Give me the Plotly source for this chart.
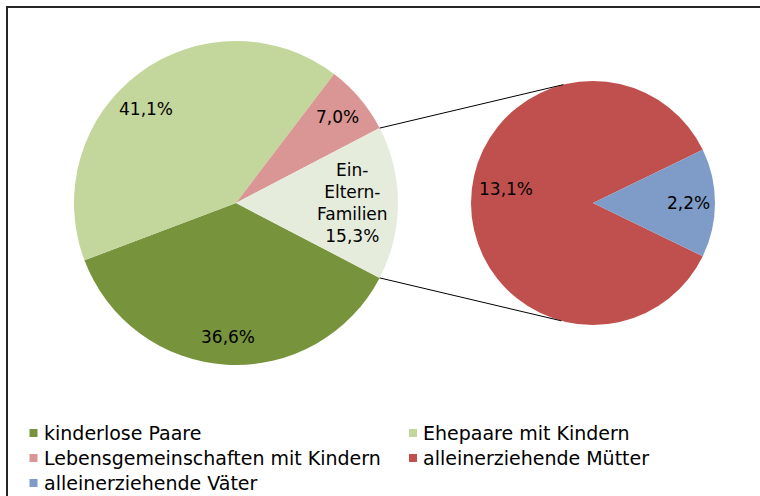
import math
import plotly.graph_objects as go

# ---- data ----
main_labels = ["kinderlose Paare", "Ehepaare mit Kindern",
               "Lebensgemeinschaften mit Kindern", "Ein-Eltern-Familien"]
main_values = [36.6, 41.1, 7.0, 15.3]
main_text = ["36,6%", "41,1%", "7,0%", "Ein-<br>Eltern-<br>Familien<br>15,3%"]
main_colors = ["#77933C", "#C3D69B", "#D99694", "#E6ECDC"]

sub_labels = ["alleinerziehende Mütter", "alleinerziehende Väter"]
sub_values = [13.1, 2.2]
sub_text = ["13,1%", "2,2%"]
sub_colors = ["#C0504D", "#7F9BC7"]

legend_labels = ["kinderlose Paare", "Ehepaare mit Kindern",
                 "Lebensgemeinschaften mit Kindern",
                 "alleinerziehende Mütter", "alleinerziehende Väter"]
legend_colors = ["#77933C", "#C3D69B", "#D99694", "#C0504D", "#7F9BC7"]

# ---- layout constants (pixels) ----
W, H = 760, 496
FONT = "DejaVu Sans"
main_c, main_r = (236, 203), 162
sub_c, sub_r = (593, 203), 122


def px(x, y):
    return x / W, 1 - y / H


def dom(c, r):
    return dict(x=[(c[0] - r) / W, (c[0] + r) / W],
                y=[1 - (c[1] + r) / H, 1 - (c[1] - r) / H])


main_total = sum(main_values)
ein_angle = main_values[3] / main_total * 360
main_rot = 90 + ein_angle / 2
sub_total = sum(sub_values)
vat_angle = sub_values[1] / sub_total * 360
sub_rot = 90 + vat_angle / 2

fig = go.Figure()
fig.add_trace(go.Pie(labels=main_labels, values=main_values, sort=False,
                     direction="clockwise", rotation=main_rot,
                     marker=dict(colors=main_colors, line=dict(width=0)),
                     textinfo="none", hoverinfo="label+percent",
                     showlegend=False, domain=dom(main_c, main_r)))
fig.add_trace(go.Pie(labels=sub_labels, values=sub_values, sort=False,
                     direction="clockwise", rotation=sub_rot,
                     marker=dict(colors=sub_colors, line=dict(width=0)),
                     textinfo="none", hoverinfo="label+value",
                     showlegend=False, domain=dom(sub_c, sub_r)))


def mid_angles(values, rot):
    tot = sum(values)
    a = rot
    out = []
    for v in values:
        ang = v / tot * 360
        out.append(a + ang / 2)
        a += ang
    return out


annotations = []
shapes = []


def add_labels(values, texts, rot, c, r, factors, offsets):
    for ang, t, f, o in zip(mid_angles(values, rot), texts, factors, offsets):
        rad = math.radians(ang + o)
        x = c[0] + f * r * math.sin(rad)
        y = c[1] - f * r * math.cos(rad)
        xx, yy = px(x, y)
        annotations.append(dict(x=xx, y=yy, xref="paper", yref="paper",
                                text=t, showarrow=False, xanchor="center",
                                yanchor="middle",
                                font=dict(family=FONT, size=17, color="#000")))


add_labels(main_values, main_text, main_rot, main_c, main_r,
           [0.83, 0.80, 0.82, 0.72], [0, -7, 0, 0])
add_labels(sub_values, sub_text, sub_rot, sub_c, sub_r,
           [0.72, 0.78], [9, 0])

# connector lines from split edges of Ein-Eltern slice to second pie
for sgn in (1, -1):
    a1 = math.radians(90 - sgn * ein_angle / 2)
    x0 = main_c[0] + main_r * math.sin(a1)
    y0 = main_c[1] - main_r * math.cos(a1)
    a2 = math.radians(360 - 14) if sgn == 1 else math.radians(180 + 15)
    x1 = sub_c[0] + sub_r * math.sin(a2)
    y1 = sub_c[1] - sub_r * math.cos(a2)
    p0, p1 = px(x0, y0), px(x1, y1)
    shapes.append(dict(type="line", xref="paper", yref="paper",
                       x0=p0[0], y0=p0[1], x1=p1[0], y1=p1[1],
                       line=dict(color="#000", width=1)))

# outer frame
shapes.append(dict(type="rect", xref="paper", yref="paper",
                   x0=7 / W, x1=1.2, y0=-0.2, y1=1 - 7 / H,
                   line=dict(color="#262626", width=2), fillcolor="rgba(0,0,0,0)"))

# manual legend
col_x = [33.5, 413]
row_y = [433, 458, 483]
sq = 8
for i, (lab, col) in enumerate(zip(legend_labels, legend_colors)):
    cx = col_x[i % 2]
    cy = row_y[i // 2]
    x0, y0 = px(cx - sq / 2, cy + sq / 2)
    x1, y1 = px(cx + sq / 2, cy - sq / 2)
    shapes.append(dict(type="rect", xref="paper", yref="paper",
                       x0=x0, y0=y0, x1=x1, y1=y1,
                       line=dict(width=0), fillcolor=col))
    tx, ty = px(cx + 8, cy)
    annotations.append(dict(x=tx, y=ty, xref="paper", yref="paper",
                            text=lab, showarrow=False, xanchor="left",
                            yanchor="middle",
                            font=dict(family=FONT, size=19, color="#000")))

fig.update_layout(width=W, height=H, margin=dict(l=0, r=0, t=0, b=0),
                  paper_bgcolor="white", plot_bgcolor="white",
                  annotations=annotations, shapes=shapes,
                  showlegend=False,
                  font=dict(family=FONT))
fig.write_html("out.html",
               config={"displayModeBar": False},
               post_script="document.body.style.margin='0';"
                           "document.body.style.padding='0';"
                           "document.body.style.overflow='hidden';")
